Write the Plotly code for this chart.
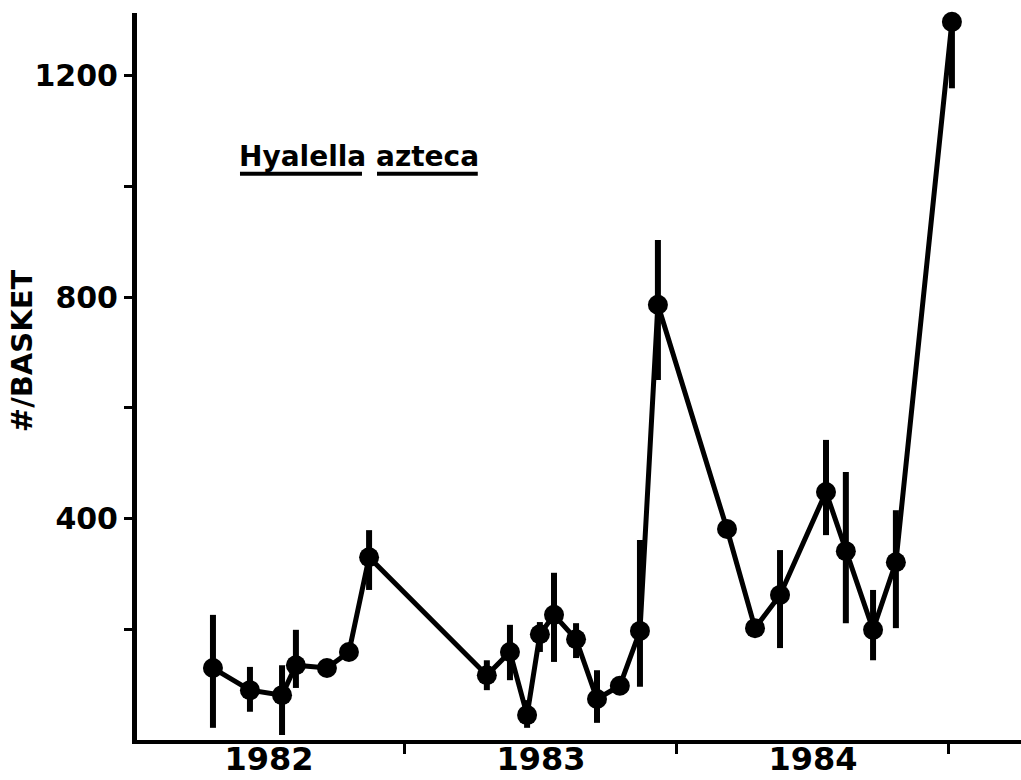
import plotly.graph_objects as go

# sampling dates (decimal years) and mean numbers per basket
dates = [1982.294, 1982.430, 1982.548, 1982.599, 1982.713, 1982.794, 1982.868,
         1983.301, 1983.386, 1983.449, 1983.496, 1983.548, 1983.629, 1983.706,
         1983.790, 1983.864, 1983.930,
         1984.184, 1984.287, 1984.379, 1984.548, 1984.621, 1984.721, 1984.805,
         1985.011]
counts = [130, 90, 81, 135, 130, 159, 330,
          117, 159, 45, 191, 226, 182, 74,
          98, 197, 786,
          381, 202, 262, 448, 341, 199, 321,
          1297]
upper = [96, 42, 54, 64, 0, 0, 49,
         27, 49, 27, 22, 76, 29, 52,
         0, 164, 117,
         0, 0, 81, 94, 143, 72, 94,
         15]
lower = [108, 39, 72, 41, 0, 0, 59,
         27, 51, 23, 32, 85, 34, 43,
         0, 101, 136,
         0, 0, 96, 78, 130, 55, 119,
         120]

year_labels = ["1982", "1983", "1984"]
year_label_pos = [1982.5, 1983.5, 1984.5]
y_ticks = [200, 400, 600, 800, 1000, 1200]
y_tick_text = ["", "400", "", "800", "", "1200"]

FONT = "DejaVu Sans"

fig = go.Figure()
fig.add_trace(go.Scatter(
    x=dates, y=counts, mode="lines+markers",
    line=dict(color="black", width=5),
    marker=dict(color="black", size=20),
    error_y=dict(type="data", symmetric=False, array=upper, arrayminus=lower,
                 color="black", thickness=6, width=0),
    showlegend=False, hoverinfo="x+y", cliponaxis=False,
))

fig.update_layout(
    width=1021, height=780,
    margin=dict(l=137, r=0, t=13, b=40, autoexpand=False),
    paper_bgcolor="white", plot_bgcolor="white",
    xaxis=dict(
        range=[1982.0147, 1985.265], automargin=False,
        tickvals=year_label_pos, ticktext=year_labels,
        ticks="", showgrid=False, zeroline=False,
        showline=True, linecolor="black", linewidth=4,
        ticklabelstandoff=-12,
        tickfont=dict(family=FONT, size=32, color="black", weight="bold"),
        minor=dict(tick0=1982, dtick=1, ticks="outside", ticklen=10,
                   tickwidth=3, tickcolor="black", showgrid=False),
    ),
    yaxis=dict(
        range=[0, 1313], automargin=False,
        tickvals=y_ticks, ticktext=y_tick_text,
        ticks="outside", ticklen=8, tickwidth=3, tickcolor="black",
        showgrid=False, zeroline=False,
        showline=True, linecolor="black", linewidth=5,
        tickfont=dict(family=FONT, size=30, color="black", weight="bold"),
    ),
)

fig.add_annotation(
    text="#/BASKET", textangle=-90,
    xref="paper", yref="paper", x=-0.13, y=0.535,
    xanchor="center", yanchor="middle", showarrow=False,
    font=dict(family=FONT, size=29, color="black", weight="bold"),
)

fig.add_annotation(
    text="Hyalella azteca",
    xref="paper", yref="paper", x=0.251, y=0.802,
    xanchor="center", yanchor="middle", showarrow=False,
    font=dict(family=FONT, size=28, color="black", weight="bold"),
)
# underlines (one per word)
for x0, x1 in [(0.1165, 0.2545), (0.2715, 0.3855)]:
    fig.add_shape(type="line", xref="paper", yref="paper",
                  x0=x0, x1=x1, y0=0.779, y1=0.779,
                  line=dict(color="black", width=4))

fig.write_html("out.html",
               config={"displayModeBar": False},
               post_script="document.body.style.margin='0';"
                           "document.body.style.overflow='hidden';")
